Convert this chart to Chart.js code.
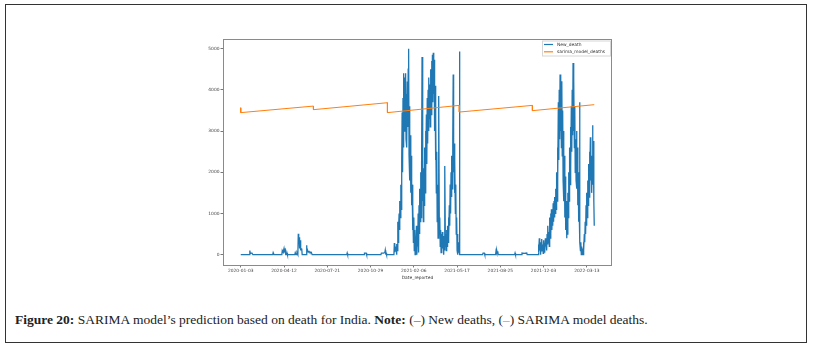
<!DOCTYPE html>
<html>
<head>
<meta charset="utf-8">
<script src="https://cdn.jsdelivr.net/npm/chart.js@4.4.0/dist/chart.umd.min.js"></script>
<style>
	body { margin:0; width:814px; height:351px; background:#fff; overflow:hidden; position:relative; }
	#frame { position:absolute; left:5px; top:4px; width:800px; height:337px; border:1px solid #333; }
	#chart-wrap { position:absolute; left:193px; top:35px; width:420px; height:247px; }
	#caption { position:absolute; left:15px; top:312px; font-family:"Liberation Serif", serif; font-size:13.5px; color:#222; white-space:nowrap; }
	#caption b { font-weight:bold; }
</style>
</head>
<body>
<div id="frame"></div>
<div id="chart-wrap"><canvas id="sarima" width="420" height="247"></canvas></div>
<div id="caption"><b>Figure 20:</b> SARIMA model’s prediction based on death for India. <b>Note:</b> (<span style="color:#1f77b4">–</span>) New deaths, (<span style="color:#ff7f0e">–</span>) SARIMA model deaths.</div>

<script>
// day 0 == 2020-01-03
var xTickDays = [0, 100, 200, 300, 400, 500, 600, 700, 800];
var xTickLabels = ["2020-01-03", "2020-04-12", "2020-07-21", "2020-10-29", "2021-02-06", "2021-05-17", "2021-08-25", "2021-12-03", "2022-03-13"];
var yTicks = [0, 1000, 2000, 3000, 4000, 5000];

var seriesNames = ["New_death", "sarima_model_deaths"];

// [day, deaths]
var newDeath = [
	[0,0],[20,0],[21,100],[22,30],[23,40],[26,40],[28,0],
	[74,0],[75,50],[77,0],
	[95,0],[96,100],[98,60],[100,150],[101,80],[103,120],[104,0],
	[106,0],[107,40],[108,0],
	[125,0],[126,50],[128,0],[130,50],[132,0],[133,510],[134,300],[135,420],[136,150],[137,350],[138,100],[139,150],[141,140],[142,0],
	[151,0],[152,230],[153,80],[154,120],[156,60],[158,80],[160,50],[163,60],[165,0],
	[245,0],[246,40],[247,0],
	[285,0],[286,40],[290,40],[291,0],
	[324,0],[325,40],[330,40],[333,50],[334,110],[335,30],[336,40],[337,0],
	[354,0],[355,280],[356,60],[357,200],[358,80],[359,180],[360,0],[361,260],[362,100],[363,800],[364,300],[365,700],
	[366,1000],[367,600],[368,1300],[369,900],[370,1700],[371,1100],[372,2300],[373,3450],[374,2000],[375,3800],
	[376,2600],[377,4400],[378,3000],[379,4300],[380,3200],[381,4400],[382,2800],[383,3900],[384,2600],[385,4200],
	[386,3100],[387,4500],[388,5000],[389,2400],[390,3600],[391,1800],[392,2900],[393,1500],[394,2400],[395,1200],
	[396,1700],[397,600],[398,1200],[399,300],[400,900],[401,100],[402,600],[403,0],[404,400],[405,100],
	[406,700],[407,0],[408,500],[409,200],[410,1000],[411,50],[412,1200],[413,500],[414,1600],[415,800],
	[416,2000],[417,900],[418,2200],[419,4800],[420,1300],[421,2400],[422,800],[423,2100],[424,1200],[425,2600],
	[426,1500],[427,3000],[428,2000],[429,3400],[430,2200],[431,3800],[432,2700],[433,4000],[434,3000],[435,4300],
	[436,3300],[437,4130],[438,3100],[439,4500],[440,3400],[441,4700],[442,3600],[443,4850],[444,3700],[445,4900],
	[446,3900],[447,4730],[448,3000],[449,4100],[450,2300],[451,3300],[452,1500],[453,2500],[454,800],[455,1700],
	[456,400],[457,1100],[458,3850],[459,500],[460,900],[461,200],[462,600],[463,50],[464,500],[465,100],
	[466,550],[467,150],[468,450],[469,0],[470,300],[471,100],[472,2150],[473,200],[474,500],[475,100],
	[476,600],[477,200],[478,700],[479,300],[480,900],[481,400],[482,1200],[483,700],[484,1700],[485,1000],
	[486,2000],[487,1400],[488,2400],[489,1600],[490,2800],[491,4370],[492,2000],[493,2700],[494,1500],[495,2300],
	[496,1000],[497,1700],[498,500],[499,900],[500,100],[501,500],[502,0],[503,300],[504,50],[505,200],
	[505.6,4930],[506.3,0],
	[559,0],[560,40],[563,40],[564,0],
	[589,0],[590,90],[591,40],[592,110],[593,50],[594,80],[595,0],
	[633,0],[634,40],[635,0],
	[649,0],[650,40],[655,30],[661,40],[662,0],
	[687,0],[688,250],[689,50],[690,400],[691,100],[692,300],[693,0],[694,200],[695,80],[696,380],
	[697,100],[698,250],[699,30],[700,350],[701,150],[702,280],[703,50],[704,400],[705,200],[706,330],
	[707,100],[708,500],[709,250],[710,700],[711,300],[712,550],[713,200],[714,900],[715,400],[716,1000],
	[717,500],[718,1100],[719,600],[720,1050],[721,700],[722,1250],[723,800],[724,1300],[725,900],[726,1400],
	[727,1000],[728,1600],[729,1100],[730,2000],[731,1300],[732,2600],[733,1800],[734,3700],[735,2300],[736,4000],
	[737,2800],[738,4370],[739,3000],[740,3900],[741,2600],[742,4210],[743,2400],[744,3500],[745,1800],[746,3000],
	[747,1300],[748,2400],[749,900],[750,1900],[751,600],[752,1300],[753,400],[754,1000],[755,500],[756,1500],
	[757,900],[758,2000],[759,1300],[760,2600],[761,1700],[762,3100],[763,2100],[764,3600],[765,2500],[766,4000],
	[767,2900],[768,4650],[769,3000],[770,4300],[771,2600],[772,3600],[773,2000],[774,2800],[775,1800],[776,3000],
	[777,1600],[778,2600],[779,1200],[780,2000],[781,800],[782,1200],[783,3700],[784,300],[785,100],[786,300],
	[787,0],[788,200],[789,50],[790,150],[791,0],[792,300],[793,100],[794,500],[795,300],[796,800],
	[797,500],[798,1200],[799,700],[800,1500],[801,900],[802,1800],[803,1200],[804,2200],[805,1400],[806,2500],
	[807,1700],[808,2850],[809,1800],[810,2400],[811,1500],[812,2200],[813,3140],[814,1700],[815,2760],[816,1300],
	[817,700]
];

// [day, predicted deaths]
var sarimaDeaths = [
	[0,3567],[0,3447],[168,3606],[168,3519],[339,3688],[339,3447],
	[505,3623],[505,3461],[674,3623],[674,3495],[817,3640]
];

var colors = ["#1f77b4", "#ff7f0e"];
var tickFont = {family: "DejaVu Sans", size: 4.4};

function toXY(pairs) { return pairs.map(p => ({x: p[0], y: p[1]})); }

// axes box + in-plot legend (matplotlib style)
var framePlugin = {
	id: "frame",
	afterDraw(chart) {
		var ctx = chart.ctx, a = chart.chartArea;
		ctx.save();
		ctx.strokeStyle = "#8a8a8a";
		ctx.lineWidth = 1;
		ctx.strokeRect(Math.round(a.left) + 0.5, Math.round(a.top) + 0.5, Math.round(a.right - a.left) - 1, Math.round(a.bottom - a.top));

		// legend
		var bw = 68, bh = 15;
		var bx = a.right - bw - 2, by = a.top + 1.5;
		ctx.fillStyle = "rgba(255,255,255,0.8)";
		ctx.fillRect(bx, by, bw, bh);
		ctx.strokeStyle = "#d6d6d6";
		ctx.strokeRect(bx + 0.5, by + 0.5, bw, bh);
		ctx.font = "4.4px DejaVu Sans";
		ctx.textBaseline = "middle";
		seriesNames.forEach((n, i) => {
			var ly = by + 4 + i * 7.3;
			ctx.strokeStyle = colors[i];
			ctx.lineWidth = 1.2;
			ctx.beginPath();
			ctx.moveTo(bx + 2, ly);
			ctx.lineTo(bx + 11, ly);
			ctx.stroke();
			ctx.fillStyle = "#333";
			ctx.fillText(n, bx + 15, ly);
		});
		ctx.restore();
	}
};

new Chart(document.getElementById("sarima"), {
	type: "line",
	data: {
		datasets: [
			{label: seriesNames[0], data: toXY(newDeath), borderColor: colors[0], borderWidth: 1.3, order: 2},
			{label: seriesNames[1], data: toXY(sarimaDeaths), borderColor: colors[1], borderWidth: 1, order: 1}
		]
	},
	options: {
		responsive: false,
		animation: false,
		devicePixelRatio: 1,
		layout: {padding: {top: 4, right: 1, bottom: 2, left: 0}},
		elements: {point: {radius: 0}, line: {tension: 0}},
		plugins: {legend: {display: false}, tooltip: {enabled: false}},
		scales: {
			x: {
				type: "linear", min: -41, max: 858,
				afterBuildTicks: s => { s.ticks = xTickDays.map(v => ({value: v})); },
				ticks: {font: tickFont, color: "#444", padding: 1, maxRotation: 0, autoSkip: false,
					callback: (v, i) => xTickLabels[i]},
				grid: {display: true, drawOnChartArea: false, drawTicks: true, tickLength: 2.5, color: "#777"},
				border: {display: false},
				title: {display: true, text: "Date_reported", font: tickFont, color: "#333", padding: 0}
			},
			y: {
				type: "linear", min: -249, max: 5234,
				afterBuildTicks: s => { s.ticks = yTicks.map(v => ({value: v})); },
				afterFit: s => { s.width = 30; },
				ticks: {font: tickFont, color: "#444", padding: 1, callback: v => String(v)},
				grid: {display: true, drawOnChartArea: false, drawTicks: true, tickLength: 2.5, color: "#777"},
				border: {display: false}
			}
		}
	},
	plugins: [framePlugin]
});
</script>
</body>
</html>
